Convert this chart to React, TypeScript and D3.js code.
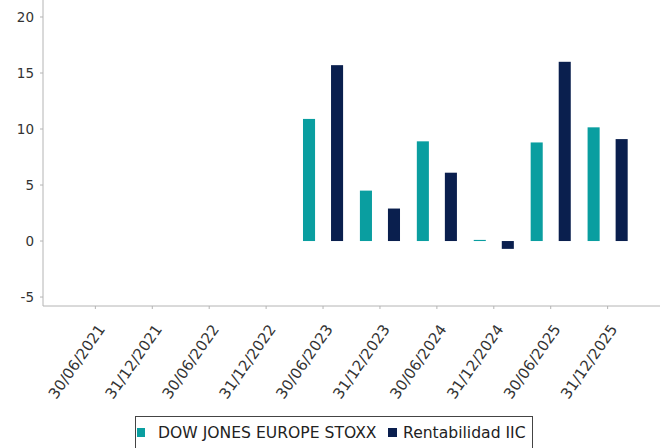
import React from "react";
import * as d3 from "d3";

const categories = [
  "30/06/2021",
  "31/12/2021",
  "30/06/2022",
  "31/12/2022",
  "30/06/2023",
  "31/12/2023",
  "30/06/2024",
  "31/12/2024",
  "30/06/2025",
  "31/12/2025",
];
const seriesNames = ["DOW JONES EUROPE STOXX", "Rentabilidad IIC"];
const benchmarkValues: (number | null)[] = [null, null, null, null, 10.9, 4.5, 8.9, 0.1, 8.8, 10.15];
const fundValues: (number | null)[] = [null, null, null, null, 15.7, 2.9, 6.1, -0.7, 16.0, 9.1];
const yTicks = [-5, 0, 5, 10, 15, 20];
const colors = ["#0a9ea0", "#0a1f4e"];

const width = 666;
const height = 448;
const plot = { left: 43, right: 660, top: 4, bottom: 306 };
const font = "'DejaVu Sans', sans-serif";

const App: React.FC = () => {
  const x = d3
    .scaleBand<string>()
    .domain(categories)
    .range([plot.left, plot.right])
    .paddingInner(0)
    .paddingOuter(0.42);

  const xInner = d3
    .scaleBand<string>()
    .domain(seriesNames)
    .range([0, x.bandwidth()])
    .paddingInner(0.57)
    .paddingOuter(0.3);

  const y = d3.scaleLinear().domain([-5.8, 21.16]).range([plot.bottom, plot.top]);

  const series = [benchmarkValues, fundValues];

  return (
    <svg
      width={width}
      height={height}
      style={{ position: "absolute", left: 0, top: 0, background: "#fff" }}
      fontFamily={font}
    >
      {/* bars */}
      {series.map((values, si) =>
        values.map((v, i) => {
          if (v === null) return null;
          const bx = (x(categories[i]) ?? 0) + (xInner(seriesNames[si]) ?? 0);
          const top = y(Math.max(0, v));
          const h = Math.abs(y(v) - y(0));
          return (
            <rect
              key={`${si}-${i}`}
              x={bx}
              y={top}
              width={xInner.bandwidth()}
              height={Math.max(h, 1)}
              fill={colors[si]}
            />
          );
        })
      )}

      {/* y axis */}
      <line x1={plot.left} x2={plot.left} y1={0} y2={plot.bottom} stroke="#b4b4b4" />
      {yTicks.map((t) => (
        <g key={t} transform={`translate(0,${y(t)})`}>
          <line x1={plot.left - 3} x2={plot.left} stroke="#b4b4b4" />
          <text
            x={plot.left - 9}
            dy="0.36em"
            textAnchor="end"
            fontSize={13.5}
            fill="#333"
          >
            {t}
          </text>
        </g>
      ))}

      {/* x axis */}
      <line x1={plot.left} x2={plot.right} y1={plot.bottom} y2={plot.bottom} stroke="#b4b4b4" />
      {categories.map((c) => {
        const cx = (x(c) ?? 0) + x.bandwidth() / 2;
        return (
          <g key={c}>
            <line x1={cx} x2={cx} y1={plot.bottom} y2={plot.bottom + 3} stroke="#b4b4b4" />
            <text
              transform={`translate(${cx + 6},${plot.bottom + 20}) rotate(-55)`}
              textAnchor="end"
              dy="0.36em"
              fontSize={15}
              fill="#333"
            >
              {c}
            </text>
          </g>
        );
      })}

      {/* legend */}
      <rect x={135.5} y={416.5} width={397} height={40} fill="#fff" stroke="#444" />
      <rect x={137} y={428} width={8} height={9} fill={colors[0]} />
      <text x={158} y={438} fontSize={15.6} fill="#222">
        {seriesNames[0]}
      </text>
      <rect x={388} y={428} width={9} height={9} fill={colors[1]} />
      <text x={403} y={438} fontSize={15.6} fill="#222">
        {seriesNames[1]}
      </text>
    </svg>
  );
};

export default App;
